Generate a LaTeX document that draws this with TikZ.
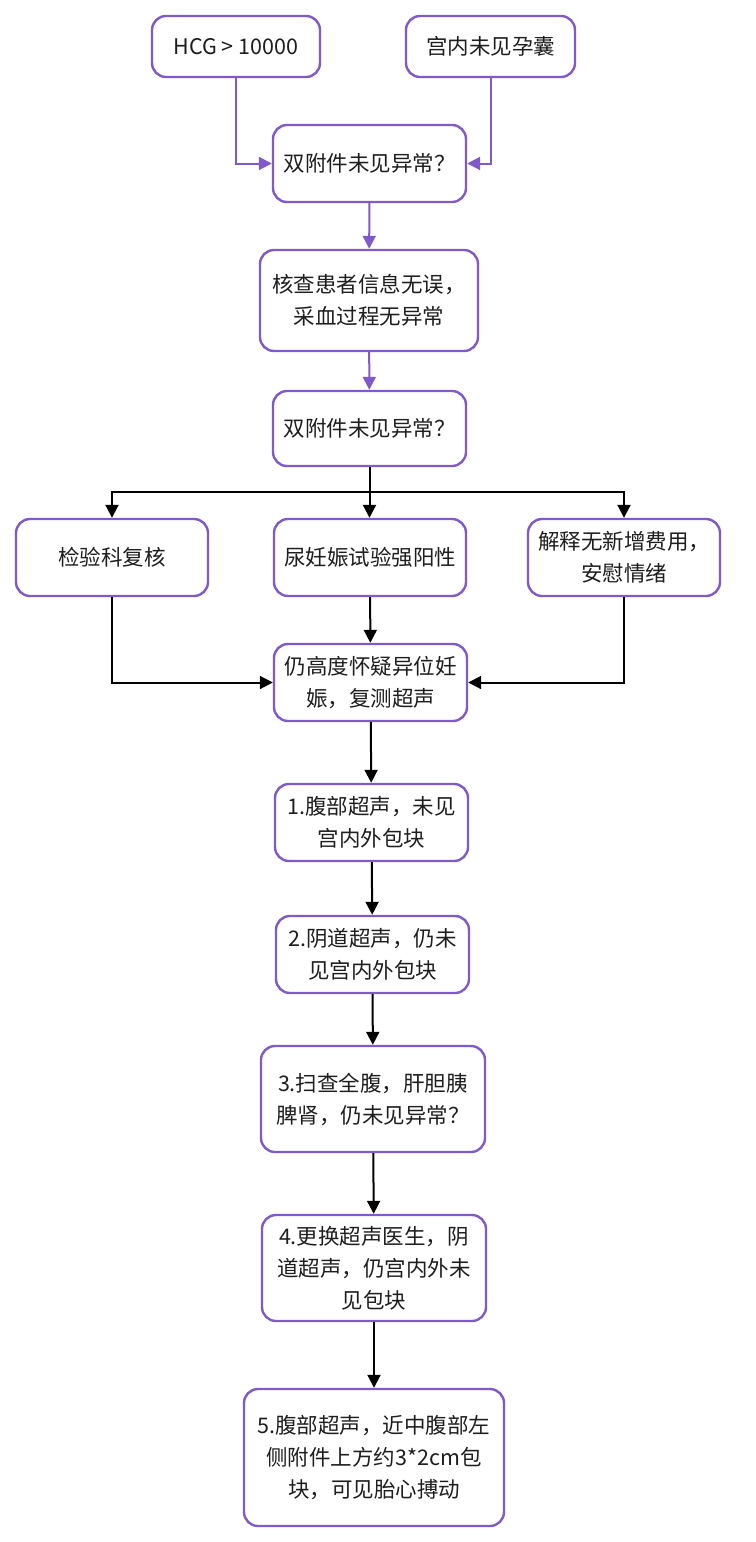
\documentclass[tikz,border=0pt]{standalone}
\usepackage{fontspec}
\setmainfont{Noto Sans CJK SC}
\usetikzlibrary{arrows.meta}
\definecolor{boxpurple}{RGB}{127,90,200}
\definecolor{txt}{RGB}{30,30,30}
\tikzset{
  flowbox/.style={draw=boxpurple, line width=2.4pt, rounded corners=14pt, fill=white,
    text=txt, align=center, inner sep=0pt, font=\fontsize{21.5}{32}\selectfont},
  parrow/.style={draw=boxpurple, line width=2pt, -{Triangle[length=13pt,width=13pt]}},
  barrow/.style={draw=black, line width=2pt, -{Triangle[length=13pt,width=13pt]}},
  bline/.style={draw=black, line width=2pt},
}
\begin{document}
\begin{tikzpicture}[x=1pt,y=-1pt]
\useasboundingbox (0,0) rectangle (755,1542);
\node[flowbox, minimum width=168pt, minimum height=61pt] (hcg) at (236,46.5) {HCG > 10000};
\node[flowbox, minimum width=169pt, minimum height=61pt] (gn) at (490.5,46.5) {宫内未见孕囊};
\node[flowbox, minimum width=193pt, minimum height=77pt] (q1) at (369.5,163.5) {双附件未见异常？};
\node[flowbox, minimum width=218pt, minimum height=101pt] (chk) at (369,300.5) {核查患者信息无误，\\采血过程无异常};
\node[flowbox, minimum width=193pt, minimum height=75pt] (q2) at (369.5,428.5) {双附件未见异常？};
\node[flowbox, minimum width=192pt, minimum height=77pt] (lab) at (112,557.5) {检验科复核};
\node[flowbox, minimum width=192pt, minimum height=77pt] (uri) at (370,557.5) {尿妊娠试验强阳性};
\node[flowbox, minimum width=192pt, minimum height=77pt] (exp) at (624,557.5) {解释无新增费用，\\安慰情绪};
\node[flowbox, minimum width=193pt, minimum height=77pt] (q3) at (370.5,682.5) {仍高度怀疑异位妊\\娠，复测超声};
\node[flowbox, minimum width=193pt, minimum height=77pt] (s1) at (371.5,822.5) {1.腹部超声，未见\\宫内外包块};
\node[flowbox, minimum width=193pt, minimum height=77pt] (s2) at (372.5,954.5) {2.阴道超声，仍未\\见宫内外包块};
\node[flowbox, minimum width=224pt, minimum height=106pt] (s3) at (373,1099) {3.扫查全腹，肝胆胰\\脾肾，仍未见异常？};
\node[flowbox, minimum width=224pt, minimum height=106pt] (s4) at (374,1268) {4.更换超声医生，阴\\道超声，仍宫内外未\\见包块};
\node[flowbox, minimum width=260pt, minimum height=137pt] (s5) at (374,1457.5) {5.腹部超声，近中腹部左\\侧附件上方约3*2cm包\\块，可见胎心搏动};
\coordinate (br) at (369.5,492);
\draw[parrow] (hcg.south) |- (q1.west);
\draw[parrow] (gn.south) |- (q1.east);
\draw[parrow] (q1) -- (chk);
\draw[parrow] (chk) -- (q2);
\draw[bline] (q2.south) -- (br);
\draw[barrow] (br) -| (lab.north);
\draw[barrow] (br) -| (exp.north);
\draw[barrow] (br) -- (br |- uri.north);
\draw[barrow] (lab.south) |- (q3.west);
\draw[barrow] (exp.south) |- (q3.east);
\draw[barrow] (uri) -- (q3);
\draw[barrow] (q3) -- (s1);
\draw[barrow] (s1) -- (s2);
\draw[barrow] (s2) -- (s3);
\draw[barrow] (s3) -- (s4);
\draw[barrow] (s4) -- (s5);
\end{tikzpicture}
\end{document}
